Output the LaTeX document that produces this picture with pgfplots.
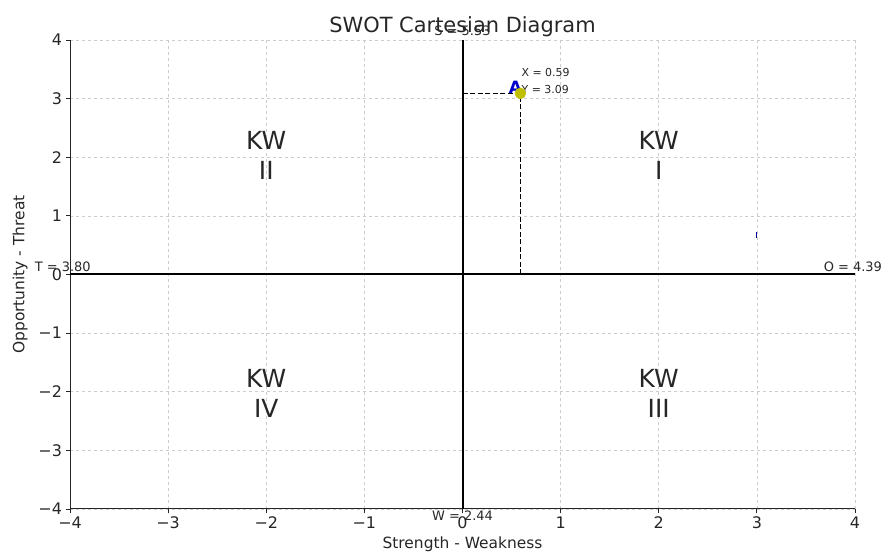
\documentclass[border=0pt]{standalone}
\usepackage{fontspec}
\setmainfont{DejaVu Sans}
\usepackage{pgfplots}
\pgfplotsset{compat=1.18}

\definecolor{txt}{HTML}{262626}
\definecolor{pt}{HTML}{BFBF00}
\definecolor{gridc}{HTML}{CCCCCC}

\begin{document}
\begin{tikzpicture}[x=1bp,y=1bp]
\useasboundingbox (0,0) rectangle (889,554);
\begin{axis}[
    at={(70bp,45bp)}, anchor=south west,
    width=785bp, height=469bp, scale only axis,
    xmin=-4, xmax=4, ymin=-4, ymax=4,
    axis lines*=left,
    axis line style={txt, line width=1pt},
    tick align=outside,
    major tick length=4.5bp,
    tick style={txt, line width=0.8pt},
    xtick={-4,...,4}, ytick={-4,...,4},
    xticklabels={−4,−3,−2,−1,0,1,2,3,4},
    yticklabels={−4,−3,−2,−1,0,1,2,3,4},
    ticklabel style={font=\fontsize{16}{16}\selectfont, text=txt},
    grid=major,
    grid style={gridc, dashed, line width=0.6pt},
    clip=false,
    xlabel={Strength - Weakness},
    ylabel={Opportunity - Threat},
    label style={font=\fontsize{15.5}{15.5}\selectfont, text=txt},
    xlabel style={yshift=-1bp},
    ylabel style={yshift=4bp},
    title={SWOT Cartesian Diagram},
    title style={font=\fontsize{21}{21}\selectfont, text=txt, yshift=-6bp},
]
% main axes lines
\addplot[black, line width=2pt] coordinates {(-4,0) (4,0)};
\addplot[black, line width=2pt] coordinates {(0,-4) (0,4)};
% dashed guides
\addplot[black, line width=1.6pt, dash pattern=on 5bp off 2.5bp] coordinates {(0,3.09) (0.59,3.09)};
\addplot[black, line width=1.6pt, dash pattern=on 5bp off 2.5bp] coordinates {(0.59,0) (0.59,3.09)};
% point A
\addplot[only marks, mark=*, mark size=5.5bp, mark options={fill=pt, draw=pt}] coordinates {(0.59,3.09)};
% small stray mark
\addplot[blue!60!black, line width=1pt] coordinates {(3.0,0.63) (3.0,0.72)};

\node[font=\fontsize{17}{17}\selectfont\bfseries, text=blue!80!black] at (axis cs:0.54,3.2) {A};
\node[anchor=west, font=\fontsize{11}{11}\selectfont, text=txt, inner sep=0] at (axis cs:0.60,3.45) {X = 0.59};
\node[anchor=west, font=\fontsize{11}{11}\selectfont, text=txt, inner sep=0] at (axis cs:0.60,3.16) {Y = 3.09};

\node[font=\fontsize{13}{13}\selectfont, text=txt] at (axis cs:0,4.15) {S = 5.53};
\node[font=\fontsize{13}{13}\selectfont, text=txt] at (axis cs:0,-4.12) {W = 2.44};
\node[anchor=west, inner sep=0, font=\fontsize{13}{13}\selectfont, text=txt] at (axis cs:-4.36,0.13) {T = 3.80};
\node[anchor=west, inner sep=0, font=\fontsize{13}{13}\selectfont, text=txt] at (axis cs:3.68,0.13) {O = 4.39};

\node[align=center, font=\fontsize{25}{30}\selectfont, text=txt] at (axis cs:-2,2.03) {KW\\II};
\node[align=center, font=\fontsize{25}{30}\selectfont, text=txt] at (axis cs:2,2.03) {KW\\I};
\node[align=center, font=\fontsize{25}{30}\selectfont, text=txt] at (axis cs:-2,-2.03) {KW\\IV};
\node[align=center, font=\fontsize{25}{30}\selectfont, text=txt] at (axis cs:2,-2.03) {KW\\III};
\end{axis}
\end{tikzpicture}
\end{document}
